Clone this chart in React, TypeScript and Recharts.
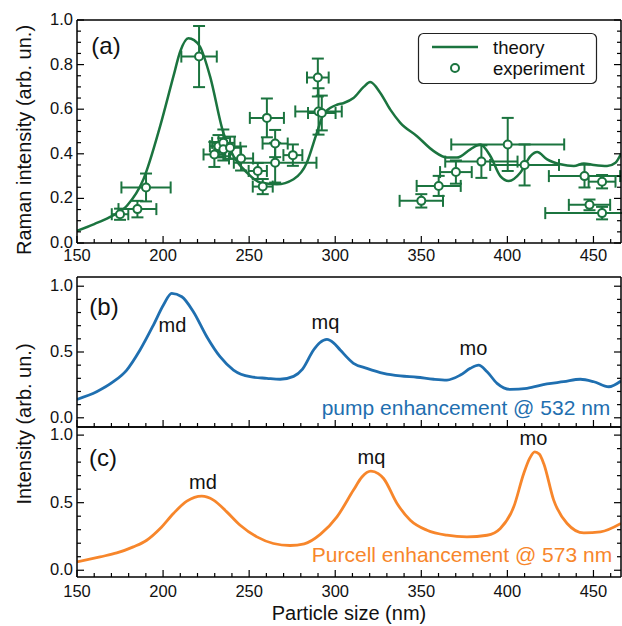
import React from "react";
import { ComposedChart, Line, Scatter, ErrorBar, XAxis, YAxis } from "recharts";

const FONT = "'Liberation Sans', Arial, Helvetica, sans-serif";
const GREEN = "#1b743f";
const BLUE = "#1f6fb0";
const ORANGE = "#f7862b";
const W = 622;

const sizeTicks = [150, 160, 170, 180, 190, 200, 210, 220, 230, 240, 250, 260, 270, 280, 290, 300, 310, 320, 330, 340, 350, 360, 370, 380, 390, 400, 410, 420, 430, 440, 450, 460];
const ramanTicks = [0, 0.05, 0.1, 0.15, 0.2, 0.25, 0.3, 0.35, 0.4, 0.45, 0.5, 0.55, 0.6, 0.65, 0.7, 0.75, 0.8, 0.85, 0.9, 0.95, 1.0];
const enhTicks = [0, 0.1, 0.2, 0.3, 0.4, 0.5, 0.6, 0.7, 0.8, 0.9, 1.0];

// (a) theory
const theorySize = [150, 160, 169, 179, 188.6, 198.3, 206, 210, 214.7, 218, 221.5, 227.3, 235, 240.9, 248.7, 256.4, 266, 275.8, 283.5, 289.3, 293, 297, 301, 305, 310.6, 316.5, 320.3, 326.2, 332, 337.8, 347.5, 357.2, 364.9, 370.7, 378.5, 384.3, 390.1, 395.9, 400.8, 407.6, 413.4, 417.3, 423.1, 430.8, 438.6, 444.4, 450.2, 457.9, 462.8, 466];
const theoryRaman = [0.055, 0.085, 0.116, 0.167, 0.286, 0.524, 0.747, 0.86, 0.918, 0.91, 0.88, 0.747, 0.494, 0.39, 0.316, 0.271, 0.263, 0.286, 0.36, 0.494, 0.575, 0.605, 0.62, 0.628, 0.65, 0.7, 0.722, 0.673, 0.598, 0.539, 0.479, 0.412, 0.383, 0.383, 0.42, 0.442, 0.39, 0.3, 0.278, 0.316, 0.39, 0.408, 0.375, 0.353, 0.345, 0.357, 0.35, 0.345, 0.36, 0.4];

// (a) experiment
const expSize = [175, 185.1, 190.1, 220.9, 229.8, 232.2, 235, 235, 238.9, 245.3, 255, 257.9, 260.3, 265.1, 265.1, 275.4, 289.9, 290.3, 292.2, 350, 360.1, 370.1, 384.9, 400.2, 410, 444.8, 455, 447.7, 455];
const expRaman = [0.129, 0.152, 0.249, 0.836, 0.397, 0.434, 0.449, 0.42, 0.427, 0.379, 0.323, 0.253, 0.561, 0.446, 0.36, 0.394, 0.742, 0.59, 0.583, 0.189, 0.256, 0.318, 0.365, 0.442, 0.35, 0.3, 0.275, 0.171, 0.134];
const expSizeErr = [4.8, 11, 14.3, 10.3, 6.3, 5, 6.5, 5, 6, 7, 5.3, 5.8, 9.9, 7.3, 24, 5.5, 6.3, 13.5, 8, 12.6, 12.8, 9.2, 21, 32.8, 20, 20.7, 7.8, 12, 33];
const expRamanErr = [0.025, 0.037, 0.0625, 0.137, 0.056, 0.05, 0.06, 0.05, 0.05, 0.054, 0.036, 0.034, 0.087, 0.061, 0.089, 0.048, 0.085, 0.104, 0.078, 0.03, 0.045, 0.052, 0.073, 0.119, 0.092, 0.051, 0.03, 0.024, 0.028];

// (b) pump enhancement
const pumpSize = [150, 161.4, 171.1, 178.9, 186.6, 194.4, 200.2, 205, 210.9, 217.6, 225.4, 233.1, 240.9, 250.6, 260.3, 268, 275.8, 281, 287.4, 291, 295.2, 299, 302.9, 310.6, 318.4, 328.1, 337.8, 347.5, 357.2, 364.9, 372.7, 378.5, 383.3, 388.2, 394, 401.7, 411.4, 423, 432.7, 442.4, 450.2, 458.9, 466];
const pumpValue = [0.14, 0.198, 0.274, 0.363, 0.515, 0.705, 0.857, 0.946, 0.92, 0.806, 0.616, 0.464, 0.363, 0.312, 0.3, 0.293, 0.315, 0.37, 0.515, 0.57, 0.596, 0.57, 0.515, 0.414, 0.376, 0.338, 0.318, 0.308, 0.293, 0.287, 0.325, 0.376, 0.4, 0.35, 0.262, 0.216, 0.224, 0.257, 0.274, 0.293, 0.274, 0.236, 0.28];

// (c) Purcell enhancement
const purcellSize = [150, 163.4, 173.1, 182.7, 190.5, 198.3, 206, 213.8, 222.5, 229.3, 237, 244.8, 254.5, 264.1, 273.8, 282, 291.3, 301, 310.6, 315.5, 320.7, 325, 328.1, 335.9, 343.6, 353.3, 364.9, 376.5, 388.2, 395.9, 403.7, 409.5, 413, 415.9, 418.5, 421.1, 426.9, 434.7, 444.4, 454.1, 466];
const purcellValue = [0.061, 0.099, 0.128, 0.173, 0.222, 0.309, 0.42, 0.511, 0.548, 0.519, 0.432, 0.333, 0.247, 0.198, 0.183, 0.195, 0.265, 0.395, 0.593, 0.69, 0.733, 0.715, 0.679, 0.494, 0.37, 0.296, 0.259, 0.247, 0.259, 0.309, 0.469, 0.716, 0.83, 0.876, 0.86, 0.79, 0.519, 0.346, 0.276, 0.284, 0.346];

const theory = theorySize.map((x, i) => ({ x, y: theoryRaman[i] }));
const experiment = expSize.map((x, i) => ({ x, y: expRaman[i], ex: expSizeErr[i], ey: expRamanErr[i] }));
const pump = pumpSize.map((x, i) => ({ x, y: pumpValue[i] }));
const purcell = purcellSize.map((x, i) => ({ x, y: purcellValue[i] }));

const isMajor = (v: number, step: number) => Math.abs(v / step - Math.round(v / step)) < 1e-6;
const TICK = { stroke: "#000", strokeWidth: 1.2 };
const AXIS = { stroke: "#000", strokeWidth: 1.5 };
const labelStyle = { fontSize: 16.5, fontFamily: FONT, fill: "#111" };

const bottomTick = (gap: number | null) => (p: any) => {
  const v = p.payload.value;
  const major = isMajor(v, 50);
  return (
    <g>
      <line x1={p.x} x2={p.x} y1={p.y} y2={p.y - (major ? 7 : 4)} {...TICK} />
      {gap !== null && major && (
        <text x={p.x} y={p.y + gap} textAnchor="middle" dominantBaseline="central" {...labelStyle}>{v}</text>
      )}
    </g>
  );
};
const topTick = (p: any) => {
  const major = isMajor(p.payload.value, 50);
  return <line x1={p.x} x2={p.x} y1={p.y} y2={p.y + (major ? 7 : 4)} {...TICK} />;
};
const leftTick = (step: number) => (p: any) => {
  const v = p.payload.value;
  const major = isMajor(v, step);
  return (
    <g>
      <line x1={p.x} x2={p.x + (major ? 7 : 4)} y1={p.y} y2={p.y} {...TICK} />
      {major && (
        <text x={p.x - 4} y={p.y - 1} textAnchor="end" dominantBaseline="central" {...labelStyle}>{v.toFixed(1)}</text>
      )}
    </g>
  );
};
const rightTick = (step: number) => (p: any) => {
  const major = isMajor(p.payload.value, step);
  return <line x1={p.x} x2={p.x - (major ? 7 : 4)} y1={p.y} y2={p.y} {...TICK} />;
};

function frame(yDomain: number[], yTicks: number[], yStep: number, bottomHeight: number, gap: number | null) {
  return [
    <XAxis key="xb" type="number" dataKey="x" domain={[150, 466]} allowDataOverflow ticks={sizeTicks} interval={0}
      tickSize={0} tickMargin={0} tickLine={false} axisLine={AXIS} height={bottomHeight} tick={bottomTick(gap)} />,
    <XAxis key="xt" xAxisId="top" orientation="top" type="number" domain={[150, 466]} allowDataOverflow ticks={sizeTicks}
      interval={0} tickSize={0} tickMargin={0} tickLine={false} axisLine={AXIS} height={1} tick={topTick} />,
    <YAxis key="yl" type="number" dataKey="y" domain={yDomain} allowDataOverflow ticks={yTicks} interval={0}
      tickSize={0} tickMargin={0} tickLine={false} axisLine={AXIS} width={77} tick={leftTick(yStep)} />,
    <YAxis key="yr" yAxisId="right" orientation="right" type="number" domain={yDomain} allowDataOverflow ticks={yTicks}
      interval={0} tickSize={0} tickMargin={0} tickLine={false} axisLine={AXIS} width={1} tick={rightTick(yStep)} />,
  ];
}

const ExpDot = (p: any) => <circle cx={p.cx} cy={p.cy} r={4} fill="#fff" stroke={GREEN} strokeWidth={2} />;

const T = (props: any) => <text fontFamily={FONT} fill="#111" {...props} />;

export default function App() {
  return (
    <div style={{ position: "absolute", left: 0, top: 0, width: W, height: 626, background: "#fff", overflow: "hidden" }}>
      <div style={{ position: "absolute", left: 0, top: 0 }}>
        <ComposedChart width={W} height={270} margin={{ top: 19, right: 0, left: 0, bottom: 0 }}>
          {frame([0, 1], ramanTicks, 0.2, 27, 12)}
          <Line data={theory} dataKey="y" type="monotone" stroke={GREEN} strokeWidth={2.5} dot={false} isAnimationActive={false} />
          <Scatter data={experiment} dataKey="y" shape={ExpDot} isAnimationActive={false}>
            <ErrorBar dataKey="ex" direction="x" width={6} stroke={GREEN} strokeWidth={2} />
            <ErrorBar dataKey="ey" direction="y" width={6} stroke={GREEN} strokeWidth={2} />
          </Scatter>
        </ComposedChart>
      </div>
      <div style={{ position: "absolute", left: 0, top: 270 }}>
        <ComposedChart width={W} height={158} margin={{ top: 6, right: 0, left: 0, bottom: 0 }}>
          {frame([-0.07, 1.07], enhTicks, 0.5, 1, null)}
          <Line data={pump} dataKey="y" type="monotone" stroke={BLUE} strokeWidth={2.8} dot={false} isAnimationActive={false} />
        </ComposedChart>
      </div>
      <div style={{ position: "absolute", left: 0, top: 420 }}>
        <ComposedChart width={W} height={206} margin={{ top: 6, right: 0, left: 0, bottom: 0 }}>
          {frame([-0.05, 1.06], enhTicks, 0.5, 49, 14)}
          <Line data={purcell} dataKey="y" type="monotone" stroke={ORANGE} strokeWidth={2.8} dot={false} isAnimationActive={false} />
        </ComposedChart>
      </div>
      <svg width={W} height={626} style={{ position: "absolute", left: 0, top: 0, pointerEvents: "none" }}>
        <T x={24} y={140} fontSize={20} textAnchor="middle" dominantBaseline="central" transform="rotate(-90 24 140)">Raman intensity (arb. un.)</T>
        <T x={24} y={424} fontSize={20} textAnchor="middle" dominantBaseline="central" transform="rotate(-90 24 424)">Intensity (arb. un.)</T>
        <T x={349} y={620} fontSize={20} textAnchor="middle">Particle size (nm)</T>

        <T x={106} y={45} fontSize={24} textAnchor="middle" dominantBaseline="central">(a)</T>
        <T x={104} y={306} fontSize={24} textAnchor="middle" dominantBaseline="central">(b)</T>
        <T x={103} y={457} fontSize={24} textAnchor="middle" dominantBaseline="central">(c)</T>

        <rect x={418.5} y={33.5} width={178} height={50} rx={5} fill="#fff" stroke="#222" strokeWidth={1.2} />
        <line x1={432} x2={478} y1={47} y2={47} stroke={GREEN} strokeWidth={2.5} />
        <circle cx={455} cy={68} r={4} fill="#fff" stroke={GREEN} strokeWidth={2} />
        <T x={493} y={47} fontSize={18.5} dominantBaseline="central">theory</T>
        <T x={493} y={68} fontSize={18.5} dominantBaseline="central">experiment</T>

        <T x={172.5} y={332} fontSize={20} textAnchor="middle">md</T>
        <T x={325.5} y={329} fontSize={20} textAnchor="middle">mq</T>
        <T x={473.5} y={355} fontSize={20} textAnchor="middle">mo</T>
        <T x={466} y={415} fontSize={21} textAnchor="middle" fill={BLUE}>pump enhancement @ 532 nm</T>

        <T x={203} y={489} fontSize={20} textAnchor="middle">md</T>
        <T x={371.5} y={464} fontSize={20} textAnchor="middle">mq</T>
        <T x={533.5} y={445} fontSize={20} textAnchor="middle">mo</T>
        <T x={462} y={562} fontSize={21} textAnchor="middle" fill={ORANGE}>Purcell enhancement @ 573 nm</T>
      </svg>
    </div>
  );
}
